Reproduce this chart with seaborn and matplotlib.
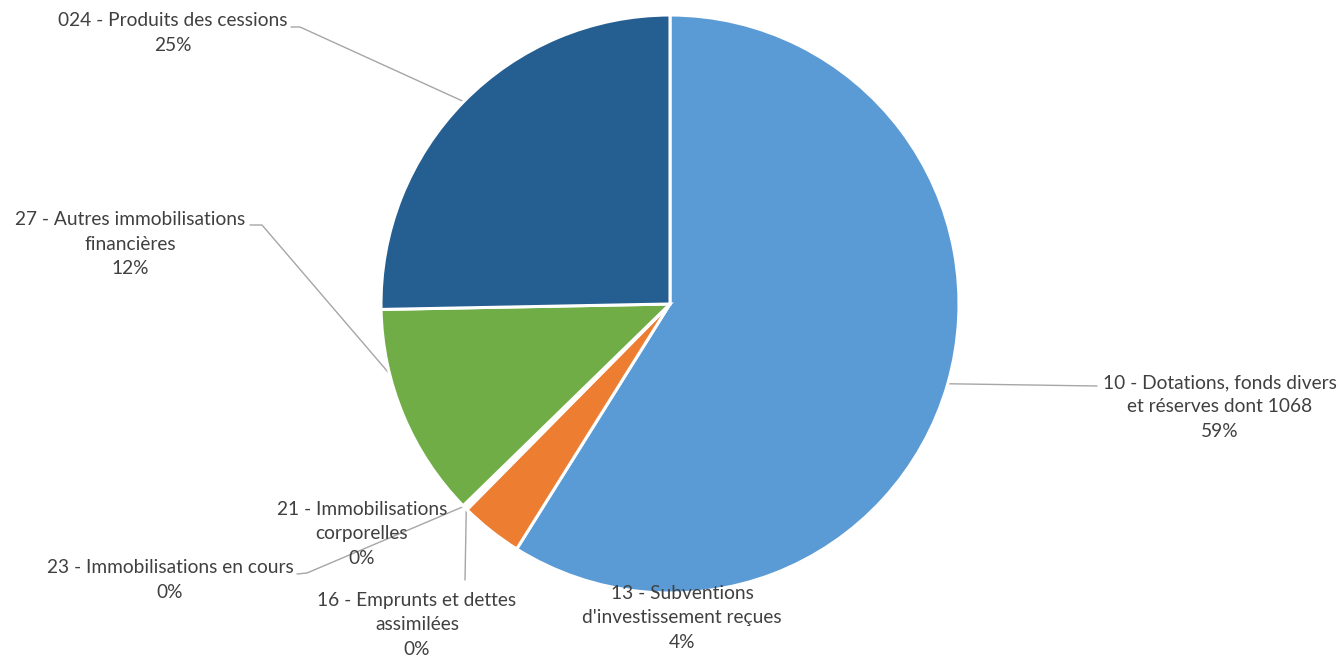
import numpy as np
import matplotlib
matplotlib.use("Agg")
import matplotlib.pyplot as plt
import seaborn as sns

# Recettes d'investissement par chapitre (parts en %)
categories = [
    "10 - Dotations, fonds divers\net réserves dont 1068",
    "13 - Subventions\nd'investissement reçues",
    "16 - Emprunts et dettes\nassimilées",
    "21 - Immobilisations\ncorporelles",
    "23 - Immobilisations en cours",
    "27 - Autres immobilisations\nfinancières",
    "024 - Produits des cessions",
]
shares = [58.9, 3.5, 0.1, 0.1, 0.1, 12.0, 25.3]
palette = ["#5B9BD5", "#ED7D31", "#A5A5A5", "#FFC000", "#4472C4", "#70AD47", "#255E91"]

sns.set_theme(style="white")
plt.rcParams["font.family"] = ["Lato", "DejaVu Sans"]

W, H = 1341, 659
fig = plt.figure(figsize=(W / 100, H / 100), dpi=100)
ax = fig.add_axes([0, 0, 1, 1])

cx, cy, R = 670, H - 304, 289
wedges, _ = ax.pie(
    shares,
    colors=sns.color_palette(palette),
    startangle=90,
    counterclock=False,
    center=(cx, cy),
    radius=R,
    wedgeprops=dict(edgecolor="white", linewidth=2.2),
)

ax.set_xlim(0, W)
ax.set_ylim(0, H)
ax.set_aspect("equal")
ax.axis("off")

text_color = "#404040"
line_color = "#A6A6A6"

# label block centres (pixels from top-left) and leader line paths
layout = {
    0: dict(pos=(1220, 407), anchor="mid", path=[(1097, 386)]),
    1: dict(pos=(682, 618), anchor=None, path=None),
    2: dict(pos=(417, 625), anchor="mid", path=[(465, 580)]),
    3: dict(pos=(362, 534), anchor=None, path=None),
    4: dict(pos=(170, 580), anchor="mid", path=[(307, 573), (297, 574)]),
    5: dict(pos=(130, 244), anchor=(-166.0), path=[(262, 225), (250, 225)]),
    6: dict(pos=(173, 33), anchor="mid", path=[(300, 27), (291, 27)]),
}

for i, (w, lab, v) in enumerate(zip(wedges, categories, shares)):
    spec = layout[i]
    x, y = spec["pos"]
    ax.text(x, H - y, f"{lab}\n{v:.0f}%", ha="center", va="center",
            fontsize=13.8, color=text_color, linespacing=1.52)
    if spec["path"] is not None:
        if spec["anchor"] == "mid":
            ang = np.deg2rad((w.theta1 + w.theta2) / 2)
        else:
            ang = np.deg2rad(spec["anchor"])
        sx, sy = cx + R * np.cos(ang), cy + R * np.sin(ang)
        xs = [sx] + [p[0] for p in spec["path"]]
        ys = [sy] + [H - p[1] for p in spec["path"]]
        ax.plot(xs, ys, color=line_color, lw=1.0, zorder=0.5)

fig.savefig("out.png", dpi=100)
